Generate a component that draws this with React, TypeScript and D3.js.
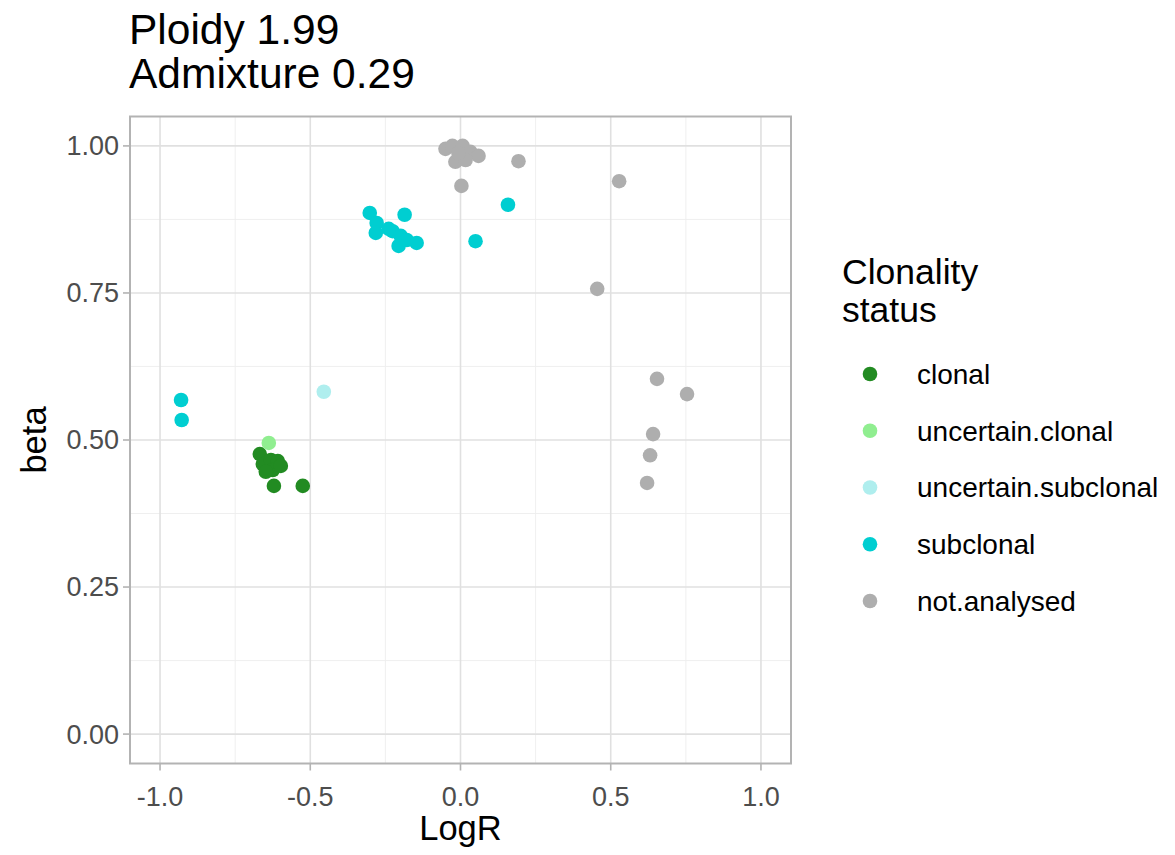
import React from "react";
import * as d3 from "d3";

const clonalX = [-0.668, -0.658, -0.631, -0.608, -0.625, -0.648, -0.598, -0.621, -0.525];
const clonalY = [0.476, 0.459, 0.466, 0.464, 0.449, 0.446, 0.456, 0.422, 0.422];
const uncClonalX = [-0.638];
const uncClonalY = [0.495];
const uncSubX = [-0.455];
const uncSubY = [0.582];
const subX = [-0.93, -0.928, 0.158, 0.05, -0.302, -0.279, -0.282, -0.186, -0.226, -0.199, -0.179, -0.206, -0.146, -0.239];
const subY = [0.568, 0.534, 0.9, 0.838, 0.886, 0.869, 0.852, 0.883, 0.855, 0.847, 0.84, 0.83, 0.835, 0.859];
const naX = [-0.05, -0.027, 0.007, 0.033, 0.06, -0.017, 0.017, -0.007, 0.003, 0.193, 0.528, 0.455, 0.654, 0.754, 0.641, 0.631, 0.621];
const naY = [0.995, 1.0, 1.0, 0.99, 0.983, 0.973, 0.976, 0.988, 0.932, 0.974, 0.94, 0.757, 0.604, 0.578, 0.51, 0.474, 0.427];

const categories = ["clonal", "uncertain.clonal", "uncertain.subclonal", "subclonal", "not.analysed"];
const colors = ["#228B22", "#90EE90", "#AFEEEE", "#00CED1", "#AEAEAE"];
const xTicks = [-1, -0.5, 0, 0.5, 1];
const yTicks = [0, 0.25, 0.5, 0.75, 1];
const xMinor = [-0.75, -0.25, 0.25, 0.75];
const yMinor = [0.125, 0.375, 0.625, 0.875];

const series = [
  { xs: clonalX, ys: clonalY },
  { xs: uncClonalX, ys: uncClonalY },
  { xs: uncSubX, ys: uncSubY },
  { xs: subX, ys: subY },
  { xs: naX, ys: naY },
];

export default function App() {
  const W = 1175, H = 855;
  const left = 130, right = 791, top = 116.5, bottom = 763.5;
  const x = d3.scaleLinear().domain([-1.1, 1.1]).range([left, right]);
  const y = d3.scaleLinear().domain([-0.05, 1.05]).range([bottom, top]);
  const font = "'Liberation Sans', Arial, Helvetica, sans-serif";
  const color = d3.scaleOrdinal<string, string>().domain(categories).range(colors);
  const legendY = d3.scalePoint<string>().domain(categories).range([374, 601]);
  const fmtX = (v: number) => d3.format(".1f")(v).replace("\u2212", "-");

  const order = [4, 3, 2, 0, 1];
  const ordered: { cx: number; cy: number; fill: string }[] = [];
  order.forEach((i) => {
    const s = series[i];
    s.xs.forEach((v, j) => ordered.push({ cx: x(v), cy: y(s.ys[j]), fill: color(categories[i]) }));
  });

  return (
    <svg width={W} height={H} style={{ position: "absolute", left: 0, top: 0, background: "#fff" }} fontFamily={font}>
      <rect x={0} y={0} width={W} height={H} fill="#fff" />
      <text x={129} y={44} fontSize={42.5} fill="#000">Ploidy 1.99</text>
      <text x={129} y={88} fontSize={42.5} fill="#000">Admixture 0.29</text>

      {xMinor.map((v) => (
        <line key={"xm" + v} x1={x(v)} x2={x(v)} y1={top} y2={bottom} stroke="#EDEDED" strokeWidth={0.9} />
      ))}
      {yMinor.map((v) => (
        <line key={"ym" + v} x1={left} x2={right} y1={y(v)} y2={y(v)} stroke="#EDEDED" strokeWidth={0.9} />
      ))}
      {xTicks.map((v) => (
        <line key={"xg" + v} x1={x(v)} x2={x(v)} y1={top} y2={bottom} stroke="#E0E0E0" strokeWidth={1.6} />
      ))}
      {yTicks.map((v) => (
        <line key={"yg" + v} x1={left} x2={right} y1={y(v)} y2={y(v)} stroke="#E0E0E0" strokeWidth={1.6} />
      ))}

      {ordered.map((p, i) => (
        <circle key={i} cx={p.cx} cy={p.cy} r={7.3} fill={p.fill} />
      ))}

      <rect x={left} y={top} width={right - left} height={bottom - top} fill="none" stroke="#B3B3B3" strokeWidth={2} />

      {yTicks.map((v) => (
        <g key={"yt" + v}>
          <line x1={left - 7} x2={left} y1={y(v)} y2={y(v)} stroke="#B3B3B3" strokeWidth={1.6} />
          <text x={left - 11} y={y(v)} dy="0.35em" textAnchor="end" fontSize={27} fill="#4D4D4D">
            {d3.format(".2f")(v)}
          </text>
        </g>
      ))}
      {xTicks.map((v) => (
        <g key={"xt" + v}>
          <line x1={x(v)} x2={x(v)} y1={bottom} y2={bottom + 7} stroke="#B3B3B3" strokeWidth={1.6} />
          <text x={x(v)} y={bottom + 42} textAnchor="middle" fontSize={27} fill="#4D4D4D">
            {fmtX(v)}
          </text>
        </g>
      ))}

      <text x={(left + right) / 2} y={840} textAnchor="middle" fontSize={34.5} fill="#000">LogR</text>
      <text transform={`translate(46, ${(top + bottom) / 2}) rotate(-90)`} textAnchor="middle" fontSize={34.5} fill="#000">beta</text>

      <text x={842} y={284} fontSize={35.5} fill="#000">Clonality</text>
      <text x={842} y={322} fontSize={35.5} fill="#000">status</text>
      {categories.map((c) => (
        <g key={c}>
          <circle cx={870} cy={legendY(c)!} r={7.3} fill={color(c)} />
          <text x={917} y={legendY(c)!} dy="0.35em" fontSize={28} fill="#000">{c}</text>
        </g>
      ))}
    </svg>
  );
}
